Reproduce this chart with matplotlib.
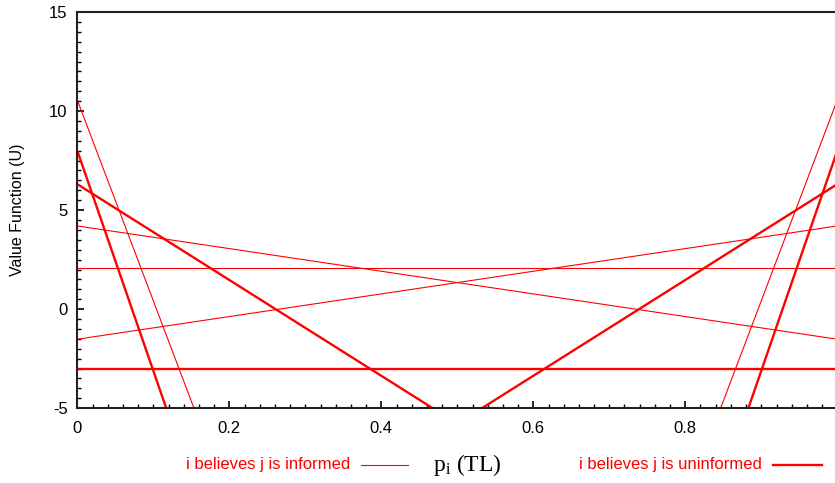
import matplotlib.pyplot as plt
from matplotlib.lines import Line2D
from matplotlib.ticker import MultipleLocator

# --- data: each line is given by its two end points (x0, y0, x1, y1) ---
informed_lines = [
    (0.0, 2.07, 1.0, 2.07),        # flat
    (0.0, 4.2, 1.0, -1.52),        # slow descending
    (0.0, -1.52, 1.0, 4.2),        # slow ascending
    (0.0, 10.56, 0.1535, -5.0),    # steep descending
    (0.8465, -5.0, 1.0, 10.56),    # steep ascending
]
uninformed_lines = [
    (0.0, -3.0, 1.0, -3.0),        # flat
    (0.0, 6.31, 0.4675, -5.0),     # V left arm
    (0.5325, -5.0, 1.0, 6.31),     # V right arm
    (0.0, 8.0, 0.117, -5.0),       # steep descending
    (0.883, -5.0, 1.0, 8.0),       # steep ascending
]
x_ticks = [0, 0.2, 0.4, 0.6, 0.8]
x_tick_labels = ['0', '0.2', '0.4', '0.6', '0.8']
y_ticks = [-5, 0, 5, 10, 15]

plt.rcParams['font.family'] = ['Liberation Sans', 'DejaVu Sans']
plt.rcParams['axes.unicode_minus'] = False

fig = plt.figure(figsize=(8.35, 4.83), dpi=100)
# right edge of the axes falls just past the picture, as in the original
ax = fig.add_axes([77.3 / 835, 0.155, 760 / 835, 0.820])

for x0, y0, x1, y1 in informed_lines:
    ax.plot([x0, x1], [y0, y1], color='#ff0000', lw=0.8, solid_capstyle='butt')
for x0, y0, x1, y1 in uninformed_lines:
    ax.plot([x0, x1], [y0, y1], color='#ff0000', lw=1.7, solid_capstyle='butt')

ax.set_xlim(0, 1.0)
ax.set_ylim(-5, 15)
ax.set_xticks(x_ticks)
ax.set_xticklabels(x_tick_labels)
ax.set_yticks(y_ticks)
ax.xaxis.set_minor_locator(MultipleLocator(0.02))
ax.yaxis.set_minor_locator(MultipleLocator(0.5))
ax.tick_params(which='major', direction='in', length=5, width=1.2, labelsize=12,
               pad=7, top=False, right=False)
ax.tick_params(axis='x', which='major', pad=9)
ax.tick_params(which='minor', direction='in', length=3, width=1.0, top=False, right=False)
ax.spines['right'].set_visible(False)
for s in ['left', 'bottom', 'top']:
    ax.spines[s].set_linewidth(1.5)
    ax.spines[s].set_color('#222222')
ax.set_ylabel('Value Function (U)', fontsize=11.5)
ax.yaxis.set_label_coords(-0.069, 0.5)

# --- key below the plot (gnuplot style) ---
y_key = 1 - 465 / 483
fig.text(350 / 835, y_key, 'i believes j is informed', color='#ff0000',
         fontsize=12, ha='right', va='center')
fig.add_artist(Line2D([361 / 835, 408 / 835], [y_key] * 2, color='#ff0000', lw=0.8))
fig.text(467 / 835, y_key, r'$\mathregular{p_i}$ (TL)', fontsize=17,
         family='Liberation Serif', ha='center', va='center')
fig.text(762 / 835, y_key, 'i believes j is uninformed', color='#ff0000',
         fontsize=12, ha='right', va='center')
fig.add_artist(Line2D([773 / 835, 822 / 835], [y_key] * 2, color='#ff0000', lw=1.7))

plt.savefig('out.png', dpi=100)
